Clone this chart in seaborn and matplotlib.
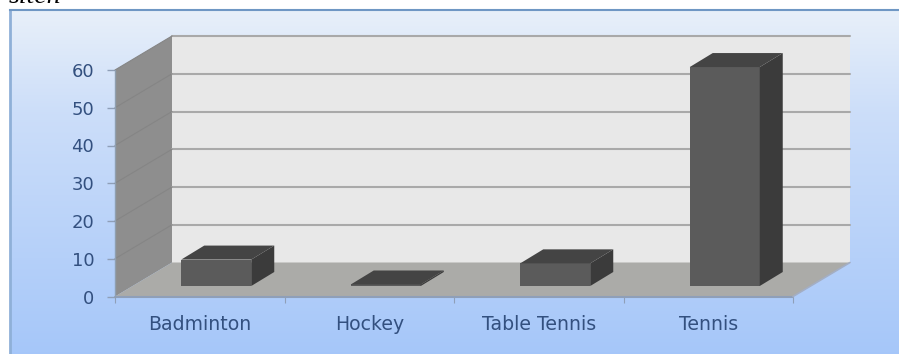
import numpy as np
import pandas as pd
import seaborn as sns
import matplotlib
matplotlib.use("Agg")
import matplotlib.pyplot as plt
from matplotlib.patches import Polygon

categories = ["Badminton", "Hockey", "Table Tennis", "Tennis"]
values = [7, 0.4, 6, 58]
y_ticks = [0, 10, 20, 30, 40, 50, 60]
cropped_caption = "sitch"

W, H = 899, 354
sns.set_theme(style="white")
plt.rcParams["font.family"] = ["DejaVu Sans"]
fig = plt.figure(figsize=(W / 100, H / 100), dpi=100, facecolor="white")

def rect(x0, ytop, x1, ybot):
    return [x0 / W, 1 - ybot / H, (x1 - x0) / W, (ybot - ytop) / H]

# panel background
bg = fig.add_axes(rect(10, 10, 899, 354))
grad = np.linspace(0, 1, 256)[:, None, None]
top = np.array([0.91, 0.94, 0.98])[None, None, :]
mid = np.array([0.80, 0.87, 0.98])[None, None, :]
bot = np.array([0.65, 0.78, 0.98])[None, None, :]
g = np.where(grad < 0.3, top + (mid - top) * grad / 0.3, mid + (bot - mid) * (grad - 0.3) / 0.7)
bg.imshow(g, aspect="auto", extent=(0, 1, 0, 1))
bg.set_xticks([]); bg.set_yticks([])
for s in bg.spines.values():
    s.set_visible(False)
bg.spines["top"].set_visible(True); bg.spines["top"].set_color("#6f97c4"); bg.spines["top"].set_linewidth(1.5)
bg.spines["left"].set_visible(True); bg.spines["left"].set_color("#8fb0d8"); bg.spines["left"].set_linewidth(2)

fig.text(9 / W, 1 - 3 / H, cropped_caption, family="Liberation Serif", style="italic",
         fontsize=20, color="black", va="baseline", ha="left")

# front plane axes carrying the scales
ax = fig.add_axes(rect(115, 70, 793, 296.5))
ax.patch.set_alpha(0)
ax.set_xlim(-0.5, 3.5)
ax.set_ylim(0, 60)
DX = 57 / (678 / 4)   # depth shift in category units
DY = 34 / (226.5 / 60)  # depth shift in value units

x0, x1 = -0.5, 3.5
def P(x, y, d=1.0):
    return (x + DX * d, y + DY * d)

ax.add_patch(Polygon([P(x0, 0), P(x1, 0), P(x1, 60), P(x0, 60)], fc="#e8e8e8", ec="none", clip_on=False, zorder=1))
ax.add_patch(Polygon([(x0, 0), P(x0, 0), P(x0, 60), (x0, 60)], fc="#8e8e8e", ec="none", clip_on=False, zorder=1))
ax.add_patch(Polygon([(x0, 0), (x1, 0), P(x1, 0), P(x0, 0)], fc="#ababa8", ec="none", clip_on=False, zorder=1))
for t in y_ticks:
    if t:
        ax.plot(*zip(P(x0, t), P(x1, t)), color="#a9a9a9", lw=1.5, clip_on=False, zorder=2)
        ax.plot(*zip((x0, t), P(x0, t)), color="#858585", lw=0.8, clip_on=False, zorder=2)
ax.plot([x0, x1], [0, 0], color="#8f9fb8", lw=1.5, clip_on=False, zorder=3)
ax.plot(*zip((x1, 0), P(x1, 0)), color="#a3aec4", lw=1.2, clip_on=False, zorder=3)
ax.plot([x0, x0], [0, 60], color="#8f9fb0", lw=1, clip_on=False, zorder=3)

ax.set_xticks([-0.5, 0.5, 1.5, 2.5, 3.5], minor=True)
ax.set_xticks(range(4))
ax.set_xticklabels(categories, fontsize=13.6, color="#33507f")
ax.set_yticks(y_ticks)
ax.set_yticklabels([str(t) for t in y_ticks], fontsize=13, color="#33507f")
ax.tick_params(axis="x", which="major", length=0, pad=13)
ax.tick_params(axis="x", which="minor", length=4, width=0.8, color="#8f9fb8", bottom=True)
ax.tick_params(axis="y", length=6, width=1, color="#8f9fb8", left=True, pad=9)
for s in ax.spines.values():
    s.set_visible(False)
ax.grid(False)

# bars axes: same scales, pushed back to the bars' depth
bar_dx, bar_dy = 16.5, 10.5
bax = fig.add_axes(rect(115 + bar_dx, 70 - bar_dy, 793 + bar_dx, 296.5 - bar_dy))
bax.patch.set_alpha(0)
df = pd.DataFrame({"sport": categories, "value": values})
sns.barplot(data=df, x="sport", y="value", ax=bax, color="#5b5b5b", saturation=1,
            width=70 / (678 / 4), zorder=4, linewidth=0, edgecolor="none")
bax.set_xlim(-0.5, 3.5)
bax.set_ylim(0, 60)
bax.axis("off")

bd_x = 23 / (678 / 4)
bd_y = 14 / (226.5 / 60)
for p in list(bax.patches):
    l, w, h = p.get_x(), p.get_width(), p.get_height()
    r = l + w
    bax.add_patch(Polygon([(r, 0), (r + bd_x, bd_y), (r + bd_x, h + bd_y), (r, h)], fc="#3b3b3b", ec="none", clip_on=False, zorder=4))
    bax.add_patch(Polygon([(l, h), (r, h), (r + bd_x, h + bd_y), (l + bd_x, h + bd_y)], fc="#444444", ec="none", clip_on=False, zorder=4))

fig.savefig("out.png", dpi=100, facecolor="white")
